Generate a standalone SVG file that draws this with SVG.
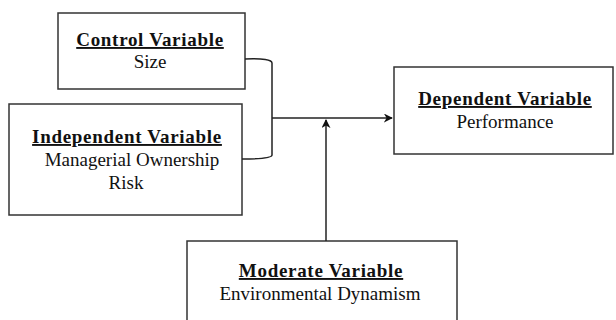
<svg xmlns="http://www.w3.org/2000/svg" width="616" height="320" viewBox="0 0 616 320">
<style>
.box{fill:#fff;stroke:#333;stroke-width:1.5}
.ln{fill:none;stroke:#222;stroke-width:1.5}
.t{font-family:"Liberation Serif","Times New Roman",serif;font-size:19px;fill:#111;text-anchor:middle}
.h{font-weight:bold;text-decoration:underline;letter-spacing:0.7px}
</style>
<defs>
<marker id="ah" viewBox="0 0 10 10" refX="9" refY="5" markerWidth="9" markerHeight="9" markerUnits="userSpaceOnUse" orient="auto">
<path d="M0,0 L10,5 L0,10 L3,5 Z" fill="#111"/>
</marker>
</defs>
<rect width="616" height="320" fill="#fff"/>
<g id="control">
<rect class="box" x="58" y="13" width="187" height="76"/>
<text class="t h" x="150" y="46">Control Variable</text>
<text class="t" x="150" y="68">Size</text>
</g>
<g id="independent">
<rect class="box" x="9" y="104" width="233" height="111"/>
<text class="t h" x="127" y="143">Independent Variable</text>
<text class="t" x="132" y="166">Managerial Ownership</text>
<text class="t" x="126" y="189">Risk</text>
</g>
<g id="dependent">
<rect class="box" x="394" y="67" width="219" height="87"/>
<text class="t h" x="505" y="105">Dependent Variable</text>
<text class="t" x="505" y="128">Performance</text>
</g>
<g id="moderate">
<rect class="box" x="187" y="241" width="270" height="90"/>
<text class="t h" x="321" y="277">Moderate Variable</text>
<text class="t" x="320" y="300">Environmental Dynamism</text>
</g>
<g id="connectors">
<path class="ln" d="M245,59 Q272,58 272,63 L272,155 Q272,159 242,159"/>
<path class="ln" d="M272,118 L392,118" marker-end="url(#ah)"/>
<path class="ln" d="M326,241 L326,120" marker-end="url(#ah)"/>
</g>
</svg>
